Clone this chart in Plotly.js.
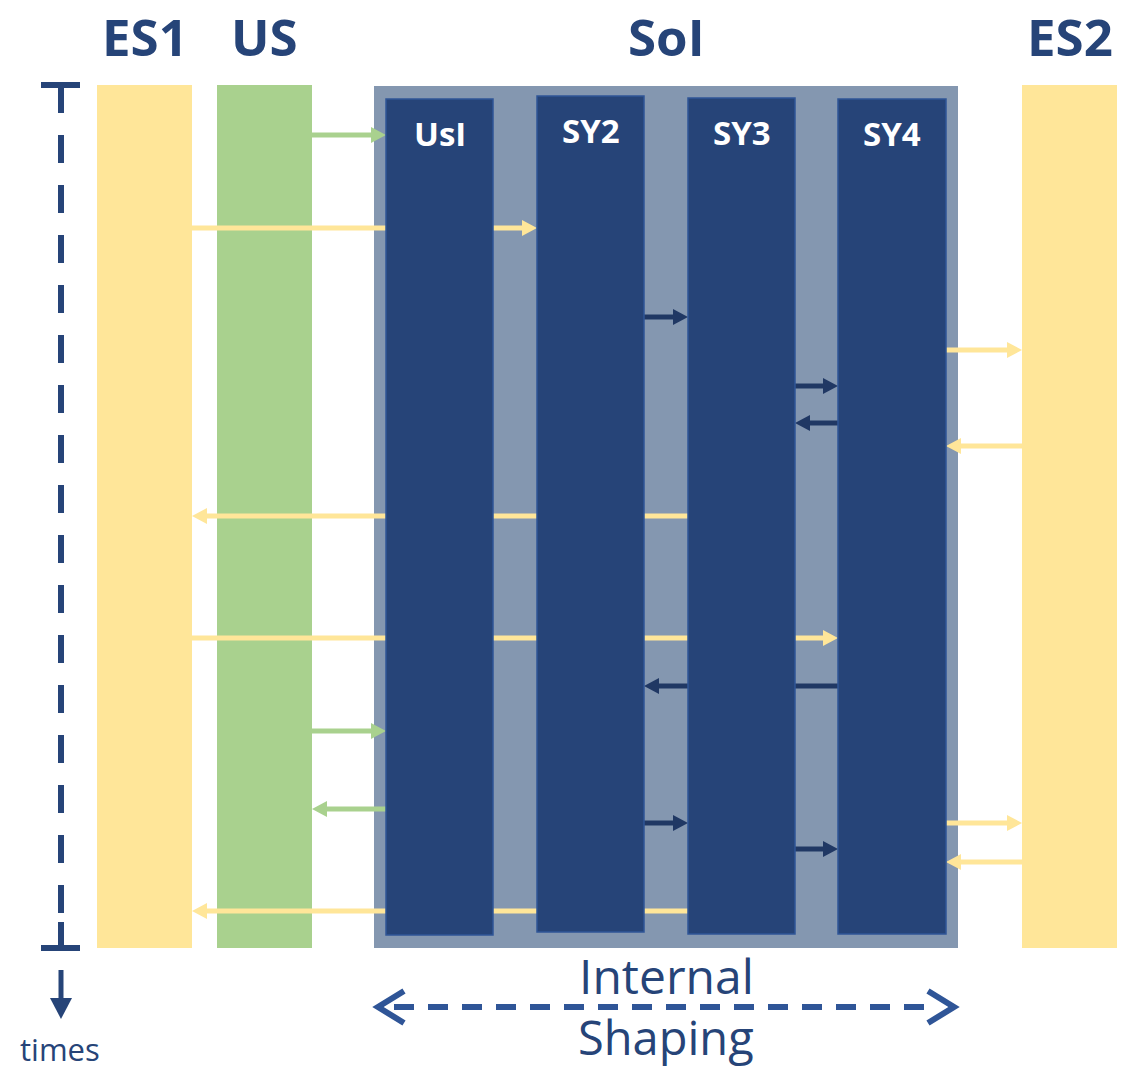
<!DOCTYPE html>
<html><head><meta charset="utf-8">
<script src="https://cdn.plot.ly/plotly-3.0.1.min.js"></script>
<style>html,body{margin:0;padding:0;background:#fff}</style>
</head><body><div id="chart" style="width:1130px;height:1070px"></div>
<script>
// ---------- data ----------
const lanes = ['ES1', 'US', 'SoI', 'ES2'];
const stages = ['UsI', 'SY2', 'SY3', 'SY4'];
const msgTime = [135, 228, 317, 350, 386, 423, 446, 516, 638, 686, 731, 809, 823, 823, 849, 862, 911];
const msgFrom = ['US', 'ES1', 'SY2', 'SY4', 'SY3', 'SY4', 'ES2', 'SY3', 'ES1', 'SY4', 'US', 'UsI', 'SY2', 'SY4', 'SY3', 'ES2', 'SY3'];
const msgTo   = ['UsI', 'SY2', 'SY3', 'ES2', 'SY4', 'SY3', 'SY4', 'ES1', 'SY4', 'SY2', 'UsI', 'US', 'SY3', 'ES2', 'SY4', 'SY4', 'ES1'];
const timeLabel = 'times';
const spanLabel = ['Internal', 'Shaping'];

// ---------- layout geometry & style (not data) ----------
const geom = {
  ES1: {x0: 97, x1: 192, y0: 85, y1: 948},
  US:  {x0: 217, x1: 312, y0: 85, y1: 948},
  SoI: {x0: 374, x1: 958, y0: 86, y1: 948},
  ES2: {x0: 1022, x1: 1117, y0: 85, y1: 948},
  UsI: {x0: 386, x1: 493, y0: 99, y1: 935},
  SY2: {x0: 537, x1: 644, y0: 96, y1: 932},
  SY3: {x0: 688, x1: 795, y0: 98, y1: 934},
  SY4: {x0: 838, x1: 946, y0: 99, y1: 934}
};
const laneFill = {ES1: '#FFE699', US: '#A9D18E', SoI: '#8497B0', ES2: '#FFE699'};
const NAVY = '#264478', NAVY_ARROW = '#203864', TXT = '#264478', MID = '#2F5597';
const YEL = '#FFE699', GRN = '#A9D18E';
const FONT = 'Open Sans, Noto Sans, sans-serif';
const timeAxisX = 61, timeTop = 85, timeBottom = 948;

const shapes = [];
const annotations = [];
const X = {xref: 'x', yref: 'y'};

// lanes
lanes.forEach(l => {
  const g = geom[l];
  shapes.push(Object.assign({type: 'rect', x0: g.x0, x1: g.x1, y0: g.y0, y1: g.y1,
    fillcolor: laneFill[l], line: {width: 0}, layer: 'above'}, X));
  annotations.push(Object.assign({x: (g.x0 + g.x1) / 2, y: 35.5, text: '<b>' + l + '</b>', showarrow: false,
    font: {family: FONT, size: 51, color: TXT}}, X));
});

// time axis
shapes.push(Object.assign({type: 'line', x0: timeAxisX, x1: timeAxisX, y0: timeTop, y1: timeBottom,
  line: {color: NAVY, width: 6, dash: '28px,22px'}, layer: 'above'}, X));
shapes.push(Object.assign({type: 'line', x0: timeAxisX - 20, x1: timeAxisX + 19, y0: timeTop, y1: timeTop,
  line: {color: NAVY, width: 6}, layer: 'above'}, X));
shapes.push(Object.assign({type: 'line', x0: timeAxisX, x1: timeAxisX, y0: timeBottom - 26, y1: timeBottom,
  line: {color: NAVY, width: 6}, layer: 'above'}, X));
shapes.push(Object.assign({type: 'line', x0: timeAxisX - 20, x1: timeAxisX + 19, y0: timeBottom, y1: timeBottom,
  line: {color: NAVY, width: 6}, layer: 'above'}, X));
shapes.push(Object.assign({type: 'line', x0: timeAxisX, x1: timeAxisX, y0: 970, y1: 1002,
  line: {color: NAVY, width: 5}, layer: 'above'}, X));
shapes.push(Object.assign({type: 'path', path: `M ${timeAxisX - 11},998 L ${timeAxisX + 11},998 L ${timeAxisX},1019 Z`,
  fillcolor: NAVY, line: {width: 0}, layer: 'above'}, X));
annotations.push(Object.assign({x: timeAxisX - 1, y: 1049, text: timeLabel, showarrow: false,
  font: {family: FONT, size: 31, color: TXT}}, X));

// messages
function colorOf(a, b) {
  if (a === 'US' || b === 'US') return GRN;
  if (a.startsWith('ES') || b.startsWith('ES')) return YEL;
  return NAVY_ARROW;
}
msgTime.forEach((t, i) => {
  const a = geom[msgFrom[i]], b = geom[msgTo[i]];
  const right = b.x0 > a.x0;
  const d = right ? 1 : -1;
  const xs = right ? a.x1 : a.x0;
  const xt = right ? b.x0 : b.x1;
  const col = colorOf(msgFrom[i], msgTo[i]);
  const L = 15, H = 8;
  shapes.push(Object.assign({type: 'line', x0: xs, x1: xt - d * (L - 2), y0: t, y1: t,
    line: {color: col, width: 5}, layer: 'above'}, X));
  shapes.push(Object.assign({type: 'path',
    path: `M ${xt},${t} L ${xt - d * L},${t - H} L ${xt - d * L},${t + H} Z`,
    fillcolor: col, line: {width: 0}, layer: 'above'}, X));
});

// stage columns
stages.forEach(s => {
  const g = geom[s];
  shapes.push(Object.assign({type: 'rect', x0: g.x0, x1: g.x1, y0: g.y0, y1: g.y1,
    fillcolor: NAVY, line: {color: MID, width: 1.5}, layer: 'above'}, X));
  annotations.push(Object.assign({x: (g.x0 + g.x1) / 2, y: g.y0 + 34, text: '<b>' + s + '</b>', showarrow: false,
    font: {family: FONT, size: 33, color: '#FFFFFF'}}, X));
});

// internal shaping span
const sp = geom.SoI;
const spY = 1007;
shapes.push(Object.assign({type: 'line', x0: sp.x0 + 20, x1: sp.x1 - 20, y0: spY, y1: spY,
  line: {color: MID, width: 6, dash: '20px,14px'}, layer: 'above'}, X));
shapes.push(Object.assign({type: 'path', path: `M ${sp.x0 + 30},${spY - 16} L ${sp.x0 + 4},${spY} L ${sp.x0 + 30},${spY + 16}`,
  line: {color: MID, width: 6}, layer: 'above'}, X));
shapes.push(Object.assign({type: 'path', path: `M ${sp.x1 - 30},${spY - 16} L ${sp.x1 - 4},${spY} L ${sp.x1 - 30},${spY + 16}`,
  line: {color: MID, width: 6}, layer: 'above'}, X));
annotations.push(Object.assign({x: (sp.x0 + sp.x1) / 2, y: 975, text: spanLabel[0], showarrow: false,
  font: {family: FONT, size: 48, color: TXT}}, X));
annotations.push(Object.assign({x: (sp.x0 + sp.x1) / 2, y: 1037, text: spanLabel[1], showarrow: false,
  font: {family: FONT, size: 47, color: TXT}}, X));

const trace = {x: [0, 1130], y: [0, 1070], mode: 'markers', marker: {opacity: 0}, hoverinfo: 'skip', showlegend: false, type: 'scatter'};

Plotly.newPlot('chart', [trace], {
  width: 1130, height: 1070,
  margin: {l: 0, r: 0, t: 0, b: 0},
  paper_bgcolor: '#FFFFFF', plot_bgcolor: '#FFFFFF',
  xaxis: {range: [0, 1130], visible: false, fixedrange: true},
  yaxis: {range: [1070, 0], visible: false, fixedrange: true},
  shapes: shapes, annotations: annotations, showlegend: false
}, {staticPlot: true});
</script></body></html>
